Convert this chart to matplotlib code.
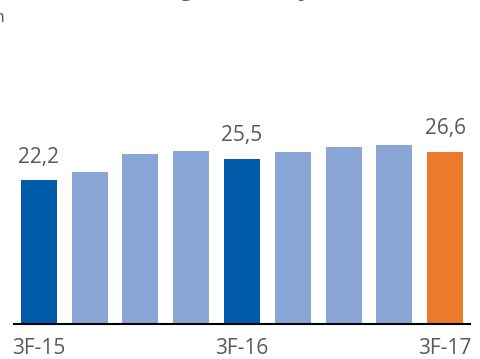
import matplotlib
matplotlib.use("Agg")
import matplotlib.pyplot as plt

# ----------------------------------------
# Data
# ----------------------------------------
quarters = ["3F-15", "4F-15", "1F-16", "2F-16", "3F-16", "4F-16", "1F-17", "2F-17", "3F-17"]
values = [22.2, 23.4, 26.2, 26.7, 25.5, 26.5, 27.4, 27.7, 26.6]
shown_labels = ["22,2", "", "", "", "25,5", "", "", "", "26,6"]
tick_labels = ["3F-15", "", "", "", "3F-16", "", "", "", "3F-17"]

DARK = "#005BAA"
LIGHT = "#8AA6D6"
ORANGE = "#EB7A2B"
GRAY = "#595959"
colors = [DARK, LIGHT, LIGHT, LIGHT, DARK, LIGHT, LIGHT, LIGHT, ORANGE]

W, H = 481, 359
fig = plt.figure(figsize=(W / 100, H / 100), dpi=100)
plt.rcParams["font.family"] = ["Open Sans", "DejaVu Sans"]

# axes placed in pixel terms
ax = fig.add_axes([14 / W, 35 / H, 456 / W, 259 / H])
x = range(len(values))
ax.bar(x, values, width=0.71, color=colors)
ax.set_xlim(-0.49, len(values) - 1 + 0.49)
ax.set_ylim(0, 40)

for xi, v, lab in zip(x, values, shown_labels):
    if lab:
        ax.annotate(lab, (xi, v), xytext=(0, 9), textcoords="offset points",
                    ha="center", va="bottom", fontsize=15, color=GRAY)

ax.set_xticks(list(x))
ax.set_xticklabels(tick_labels, fontsize=15, color=GRAY)
ax.tick_params(axis="x", length=0, pad=10)
ax.set_yticks([])
for s in ["top", "left", "right"]:
    ax.spines[s].set_visible(False)
ax.spines["bottom"].set_linewidth(1.5)
ax.spines["bottom"].set_color("black")

# title and subtitle, cut off by the edge of the image as in the reference
fig.text(417 / W, 1 + 4 / H, "Margen bruto ajustado (%)", ha="right",
         va="baseline", fontsize=15, weight="bold", color=GRAY)
fig.text(5 / W, 1 - 22 / H, "Porcentaje sobre ventas en", ha="right",
         va="baseline", fontsize=12, color=GRAY)

fig.savefig("out.png", dpi=100)
